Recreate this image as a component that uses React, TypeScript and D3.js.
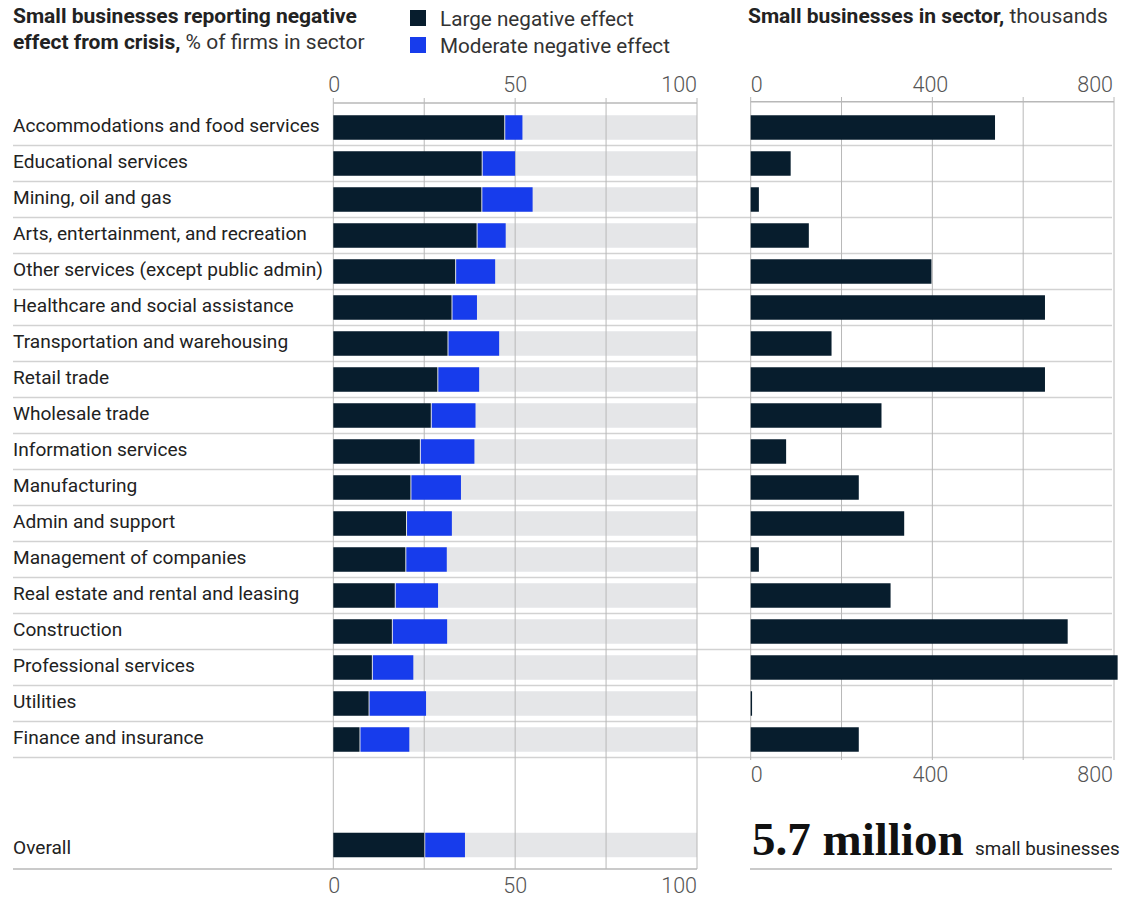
import React from 'react';
import * as d3 from 'd3';

// Sectors, top to bottom
const sectors = [
  'Accommodations and food services',
  'Educational services',
  'Mining, oil and gas',
  'Arts, entertainment, and recreation',
  'Other services (except public admin)',
  'Healthcare and social assistance',
  'Transportation and warehousing',
  'Retail trade',
  'Wholesale trade',
  'Information services',
  'Manufacturing',
  'Admin and support',
  'Management of companies',
  'Real estate and rental and leasing',
  'Construction',
  'Professional services',
  'Utilities',
  'Finance and insurance',
];

// % of firms in sector
const largeEffect = [47, 40.8, 40.7, 39.4, 33.5, 32.5, 31.4, 28.6, 26.8, 23.8, 21.2, 20, 19.8, 16.9, 16.1, 10.6, 9.7, 7.2];
const moderateEffect = [5, 9.2, 14.1, 8, 11, 7, 14.2, 11.5, 12.3, 15, 13.9, 12.6, 11.4, 11.9, 15.2, 11.4, 15.8, 13.7];

const overallLarge = 25;
const overallModerate = 11.2;

// small businesses, thousands
const businessCounts = [538, 88, 18, 128, 398, 648, 178, 648, 288, 78, 238, 338, 18, 308, 698, 808, 3, 238];

const pctTicks = [0, 50, 100];
const pctGrid = [0, 25, 50, 75, 100];
const countTicks = [0, 400, 800];
const countGrid = [0, 200, 400, 600, 800];

const DARK = '#071d2d';
const BLUE = '#173cec';
const TRACK = '#e5e6e8';
const GRID = '#b8b8b8';
const SEP = '#d2d2d2';
const FONT = 'Roboto, "Noto Sans", sans-serif';

const App: React.FC = () => {
  const width = 1136;
  const height = 897;

  const xPct = d3.scaleLinear().domain([0, 100]).range([333.3, 697]);
  const xCnt = d3.scaleLinear().domain([0, 800]).range([750.7, 1114]);

  const y = d3
    .scaleBand<string>()
    .domain(sectors)
    .range([109.5, 757.5])
    .paddingInner(0.32)
    .paddingOuter(0.16);
  const step = y.step();
  const bw = y.bandwidth();

  const overallCenter = 845;
  const labelX = 13;

  const tickAnchor = (i: number, n: number) => (i === 0 ? 'middle' : i === n - 1 ? 'end' : 'middle');

  return (
    <svg
      width={width}
      height={height}
      style={{ position: 'absolute', left: 0, top: 0, fontFamily: FONT }}
    >
      <rect width={width} height={height} fill="#fff" />

      {/* Titles */}
      <text x={labelX} y={23} fontSize={21} fill="#222">
        <tspan fontWeight={700}>Small businesses reporting negative</tspan>
      </text>
      <text x={labelX} y={49} fontSize={21} fill="#222">
        <tspan fontWeight={700}>effect from crisis,</tspan>
        <tspan fontWeight={400} fill="#333"> % of firms in sector</tspan>
      </text>

      {/* Legend */}
      <rect x={410} y={10} width={16} height={16} fill={DARK} />
      <text x={440} y={25.5} fontSize={20.7} fill="#333">Large negative effect</text>
      <rect x={410} y={37} width={16} height={16} fill={BLUE} />
      <text x={440} y={52.5} fontSize={20.7} fill="#333">Moderate negative effect</text>

      <text x={748} y={23} fontSize={21} fill="#222">
        <tspan fontWeight={700}>Small businesses in sector,</tspan>
        <tspan fontWeight={400} fill="#333"> thousands</tspan>
      </text>

      {/* Row separators */}
      {sectors.map(s => (
        <line
          key={`sep-${s}`}
          x1={labelX}
          x2={1112}
          y1={(y(s) as number) + bw + step * 0.16}
          y2={(y(s) as number) + bw + step * 0.16}
          stroke={SEP}
          strokeWidth={1.5}
        />
      ))}

      {/* Left: track bars */}
      {sectors.map(s => (
        <rect
          key={`trk-${s}`}
          x={xPct(0)}
          y={y(s)}
          width={xPct(100) - xPct(0)}
          height={bw}
          fill={TRACK}
        />
      ))}
      <rect
        x={xPct(0)}
        y={overallCenter - bw / 2}
        width={xPct(100) - xPct(0)}
        height={bw}
        fill={TRACK}
      />

      {/* Left gridlines */}
      {pctGrid.map(t => (
        <line key={`pg-${t}`} x1={xPct(t)} x2={xPct(t)} y1={98} y2={869} stroke={GRID} strokeWidth={1} />
      ))}
      <line x1={xPct(0)} x2={xPct(100)} y1={103} y2={103} stroke={GRID} strokeWidth={1.5} />
      <line x1={labelX} x2={xPct(100)} y1={869} y2={869} stroke={GRID} strokeWidth={1.5} />

      {/* Left: stacked bars */}
      {sectors.map((s, i) => (
        <g key={`bar-${s}`}>
          <rect x={xPct(0)} y={y(s)} width={xPct(largeEffect[i]) - xPct(0)} height={bw} fill={DARK} />
          <rect
            x={xPct(largeEffect[i]) + 1}
            y={y(s)}
            width={xPct(largeEffect[i] + moderateEffect[i]) - xPct(largeEffect[i]) - 1}
            height={bw}
            fill={BLUE}
          />
        </g>
      ))}
      <rect
        x={xPct(0)}
        y={overallCenter - bw / 2}
        width={xPct(overallLarge) - xPct(0)}
        height={bw}
        fill={DARK}
      />
      <rect
        x={xPct(overallLarge) + 1}
        y={overallCenter - bw / 2}
        width={xPct(overallLarge + overallModerate) - xPct(overallLarge) - 1}
        height={bw}
        fill={BLUE}
      />

      {/* Sector labels */}
      {sectors.map(s => (
        <text
          key={`lbl-${s}`}
          x={labelX}
          y={(y(s) as number) + bw / 2 + 4.5}
          fontSize={19.1}
          fill="#222"
        >
          {s}
        </text>
      ))}
      <text x={labelX} y={overallCenter + 8.5} fontSize={19.1} fill="#222">Overall</text>

      {/* Left tick labels, top and bottom */}
      {pctTicks.map((t, i) => (
        <g key={`pt-${t}`}>
          <text x={xPct(t) + (i === 0 ? 1 : 0)} y={92} fontSize={21.5} fontWeight={300} fill="#555" textAnchor={tickAnchor(i, pctTicks.length)}>{t}</text>
          <text x={xPct(t) + (i === 0 ? 1 : 0)} y={893} fontSize={21.5} fontWeight={300} fill="#555" textAnchor={tickAnchor(i, pctTicks.length)}>{t}</text>
        </g>
      ))}

      {/* Right gridlines */}
      {countGrid.map(t => (
        <line key={`cg-${t}`} x1={xCnt(t)} x2={xCnt(t)} y1={97} y2={760} stroke={GRID} strokeWidth={1} />
      ))}
      <line x1={xCnt(0)} x2={xCnt(800)} y1={101.7} y2={101.7} stroke={GRID} strokeWidth={1.5} />

      {/* Right bars */}
      {sectors.map((s, i) => (
        <rect
          key={`cnt-${s}`}
          x={xCnt(0)}
          y={y(s)}
          width={Math.max(1, xCnt(businessCounts[i]) - xCnt(0))}
          height={bw}
          fill={DARK}
        />
      ))}

      {/* Right tick labels */}
      {countTicks.map((t, i) => {
        const anchor = i === 0 ? 'start' : i === countTicks.length - 1 ? 'end' : 'middle';
        const x = i === 0 ? xCnt(t) : i === countTicks.length - 1 ? xCnt(t) - 1 : xCnt(t) - 2;
        return (
          <g key={`ct-${t}`}>
            <text x={x} y={92} fontSize={21.5} fontWeight={300} fill="#555" textAnchor={anchor}>{t}</text>
            <text x={x} y={782} fontSize={21.5} fontWeight={300} fill="#555" textAnchor={anchor}>{t}</text>
          </g>
        );
      })}

      {/* Total */}
      <text x={752} y={855} fontFamily='"Liberation Serif", "DejaVu Serif", serif' fontWeight={700} fontSize={47} fill="#111">
        5.7 million
      </text>
      <text x={975} y={855} fontSize={18.8} fill="#222">small businesses</text>
      <line x1={750} x2={1112} y1={869} y2={869} stroke={GRID} strokeWidth={1.5} />
    </svg>
  );
};

export default App;
